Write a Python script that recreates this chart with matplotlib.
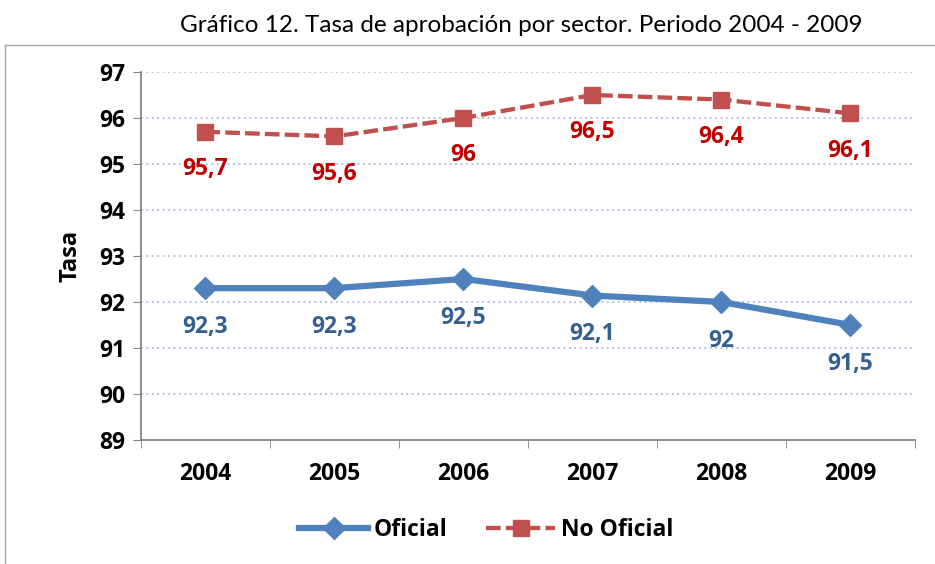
import numpy as np
import matplotlib.pyplot as plt
from matplotlib.lines import Line2D

# data
years = ['2004', '2005', '2006', '2007', '2008', '2009']
oficial = [92.3, 92.3, 92.5, 92.14, 92.0, 91.5]
oficial_labels = ['92,3', '92,3', '92,5', '92,1', '92', '91,5']
no_oficial = [95.7, 95.6, 96.0, 96.5, 96.4, 96.1]
no_oficial_labels = ['95,7', '95,6', '96', '96,5', '96,4', '96,1']

plt.rcParams['font.family'] = ['Open Sans', 'DejaVu Sans']

fig = plt.figure(figsize=(9.35, 5.64), dpi=100)
ax = fig.add_axes([0.1508, 0.2199, 0.8278, 0.6525])

x = np.arange(len(years))
blue = '#4f81bd'
red = '#c0504d'
dash = (0, (3.4, 1.2))

ax.plot(x, oficial, color=blue, lw=4.5, marker='D', ms=11,
        label='Oficial', zorder=3)
ax.plot(x, no_oficial, color=red, lw=3.1, ls=dash, marker='s', ms=11,
        label='No Oficial', zorder=3)

for xi, v, t in zip(x, oficial, oficial_labels):
    ax.annotate(t, (xi, v), xytext=(0, -28), textcoords='offset points',
                ha='center', va='center', fontsize=16.5, fontweight='bold',
                color='#376092')
for xi, v, t in zip(x, no_oficial, no_oficial_labels):
    ax.annotate(t, (xi, v), xytext=(0, -27), textcoords='offset points',
                ha='center', va='center', fontsize=16.5, fontweight='bold',
                color='#c00000')

ax.set_xlim(-0.5, 5.5)
ax.set_ylim(89, 97)
ax.set_yticks(np.arange(89, 98, 1))
ax.set_xticks(x)
ax.set_xticklabels(years, fontsize=16.5, fontweight='bold')
ax.set_xticks(np.arange(-0.5, 6, 1), minor=True)
ax.tick_params(axis='x', which='major', length=0, pad=16)
ax.tick_params(axis='x', which='minor', length=6, color='#868686', direction='out')
ax.tick_params(axis='y', length=6, color='#868686', pad=5, labelsize=16.5)
for lab in ax.get_yticklabels():
    lab.set_fontweight('bold')

ax.grid(axis='y', color='#a6bde3', ls=(0, (1, 2)), lw=1.3)
ax.set_axisbelow(True)
for s in ['top', 'right']:
    ax.spines[s].set_visible(False)
for s in ['left', 'bottom']:
    ax.spines[s].set_color('#868686')
    ax.spines[s].set_linewidth(1.3)

ax.set_ylabel('Tasa', fontsize=17, fontweight='bold', labelpad=12)

handles = [Line2D([], [], color=blue, lw=4.5, marker='D', ms=11),
           Line2D([], [], color=red, lw=3.1, ls=dash, marker='s', ms=11)]
leg = fig.legend(handles, ['Oficial', 'No Oficial'], loc='center',
                 bbox_to_anchor=(0.52, 0.06), ncol=2, frameon=False,
                 handlelength=3.0, columnspacing=1.7, handletextpad=0.25,
                 prop={'size': 16.5, 'weight': 'bold'})

fig.text(0.558, 0.955, 'Gráfico 12. Tasa de aprobación por sector. Periodo 2004 - 2009',
         ha='center', va='center', fontsize=17.5, family=['Lato', 'DejaVu Sans'])

# outer frame
fig.add_artist(Line2D([5 / 935, 1], [1 - 45 / 564] * 2, transform=fig.transFigure,
                      color='#a6a6a6', lw=1))
fig.add_artist(Line2D([5 / 935] * 2, [0, 1 - 45 / 564], transform=fig.transFigure,
                      color='#a6a6a6', lw=1))

fig.savefig('out.png', dpi=100)
